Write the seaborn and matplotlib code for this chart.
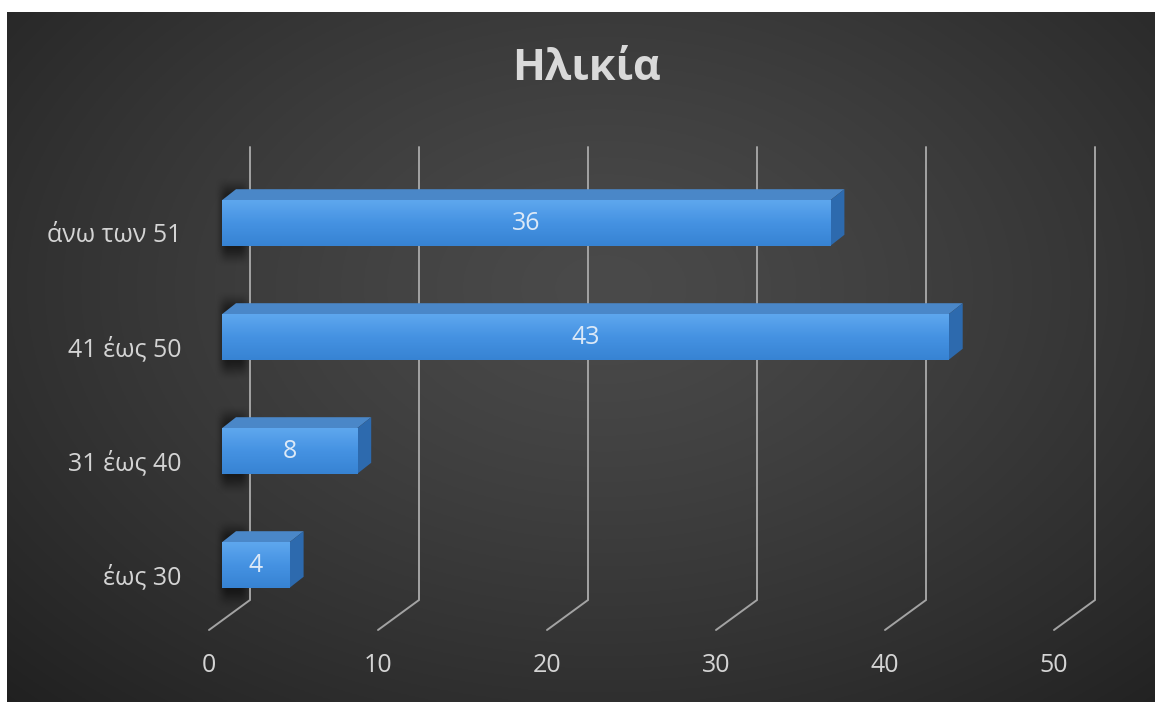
import numpy as np
import pandas as pd
import matplotlib
matplotlib.use("Agg")
import matplotlib.pyplot as plt
import matplotlib.transforms as mtransforms
from matplotlib.patches import Polygon
from matplotlib.colors import LinearSegmentedColormap
import seaborn as sns

# ---- data ----
categories = ["άνω των 51", "41 έως 50", "31 έως 40", "έως 30"]
counts = [36, 43, 8, 4]
x_ticks = [0, 10, 20, 30, 40, 50]
title = "Ηλικία"

sns.set_theme(style="white")
plt.rcParams["font.family"] = ["Open Sans", "DejaVu Sans"]

W, H, DPI = 1155, 702, 100
PX = 16.9    # pixels per unit on the value axis
PY = 114.0   # pixels per category step

fig = plt.figure(figsize=(W / DPI, H / DPI), dpi=DPI, facecolor="white")

# ---- dark radial background panel ----
bg = fig.add_axes([7 / W, 0, (W - 7) / W, (H - 12) / H], zorder=-10)
yy, xx = np.mgrid[0:1:350j, 0:1:580j]
r = np.sqrt(((xx - 0.52) / 0.75) ** 2 + ((yy - 0.40) / 0.85) ** 2)
t = np.clip(r, 0, 1) ** 1.3
c_in, c_out = 0x4a / 255, 0x20 / 255
shade = c_in + (c_out - c_in) * t
bg.imshow(np.dstack([shade, shade, shade]), extent=[0, 1, 0, 1],
          aspect="auto", origin="upper")
bg.set_axis_off()

# ---- main axes (front plane of the bars) ----
ax = fig.add_axes([222 / W, 1 - 622 / H, 50 * PX / W, 4 * PY / H])
df = pd.DataFrame({"age": categories, "count": counts})
sns.barplot(data=df, x="count", y="age", orient="h", width=0.4,
            color="#4794e3", saturation=1, ax=ax, zorder=3)
ax.set_xlim(0, 50)
ax.set_ylim(3.5, -0.5)
ax.set_facecolor("none")
for s in ax.spines.values():
    s.set_visible(False)
ax.set_xlabel("")
ax.set_ylabel("")


def py(p):
    """pixel row -> category-axis data value"""
    return (p - 223) / PY


# 3D wall / floor gridlines
back_dx = 28 / PX
front_dx = -13 / PX
for v in x_ticks:
    ax.plot([v + back_dx, v + back_dx, v + front_dx],
            [py(147), py(600), py(630)],
            color="#a3a3a3", lw=1.4, clip_on=False, zorder=1,
            solid_joinstyle="miter")


def soft_profile(n, edge):
    """1-D ramp that fades in and out over `edge` samples"""
    i = np.arange(n)
    a = np.clip(np.minimum(i, n - 1 - i) / edge, 0, 1)
    return a * a * (3 - 2 * a)


# blurred shadow block used behind the left end of every bar
sh_w, sh_h = 40, 90
shadow = np.zeros((sh_h, sh_w, 4))
shadow[..., 3] = 0.55 * np.outer(soft_profile(sh_h, 22), soft_profile(sh_w, 14))

# bar depth faces, gradient fronts and wall shadows
ddx, ddy = 14 / PX, -11 / PY
front_cmap = LinearSegmentedColormap.from_list("front", ["#5ea7ee", "#4592e2", "#3783d3"])
grad = np.linspace(0, 1, 64).reshape(-1, 1)
for patch in list(ax.patches):
    x0, yc0 = patch.get_x(), patch.get_y()
    w, h = patch.get_width(), patch.get_height()
    ytop, ybot = yc0, yc0 + h
    x1 = x0 + w
    patch.set_edgecolor("none")

    shade_im = ax.imshow(shadow, extent=(x0 - 8 / PX, x0 + 32 / PX,
                                         ybot + 22 / PY, ytop - 24 / PY),
                         origin="upper", aspect="auto", zorder=0.5)
    shade_im.set_clip_on(False)

    top = Polygon([(x0, ytop), (x1, ytop), (x1 + ddx, ytop + ddy), (x0 + ddx, ytop + ddy)],
                  closed=True, facecolor="#4a87c8", edgecolor="none", zorder=2.9)
    side = Polygon([(x1, ytop), (x1, ybot), (x1 + ddx, ybot + ddy), (x1 + ddx, ytop + ddy)],
                   closed=True, facecolor="#2d6aae", edgecolor="none", zorder=2.9)
    ax.add_patch(top)
    ax.add_patch(side)

    im = ax.imshow(grad, extent=(x0, x1, ybot, ytop), origin="upper",
                   cmap=front_cmap, aspect="auto", zorder=3.2)
    im.set_clip_path(patch)

ax.set_xlim(0, 50)
ax.set_ylim(3.5, -0.5)

# value labels in the middle of each bar
ax.bar_label(ax.containers[0], labels=[str(v) for v in counts],
             label_type="center", color="#dce9f7", fontsize=18, zorder=5)

# ticks
ax.set_xticks(x_ticks)
ax.set_xticklabels([str(v) for v in x_ticks])
ax.tick_params(axis="x", length=0, pad=22, labelsize=18, labelcolor="#d4d4d4")
ax.tick_params(axis="y", length=0, pad=29, labelsize=18, labelcolor="#d4d4d4")
xoff = mtransforms.ScaledTranslation(-13 / DPI, 0, fig.dpi_scale_trans)
for lab in ax.get_xticklabels():
    lab.set_transform(lab.get_transform() + xoff)
yoff = mtransforms.ScaledTranslation(0, -9 / DPI, fig.dpi_scale_trans)
for lab in ax.get_yticklabels():
    lab.set_transform(lab.get_transform() + yoff)

# title
fig.text(586 / W, 1 - 68 / H, title, ha="center", va="center",
         fontsize=31, fontweight="bold", color="#d9d9d9")

fig.savefig("out.png", dpi=DPI, facecolor="white")
